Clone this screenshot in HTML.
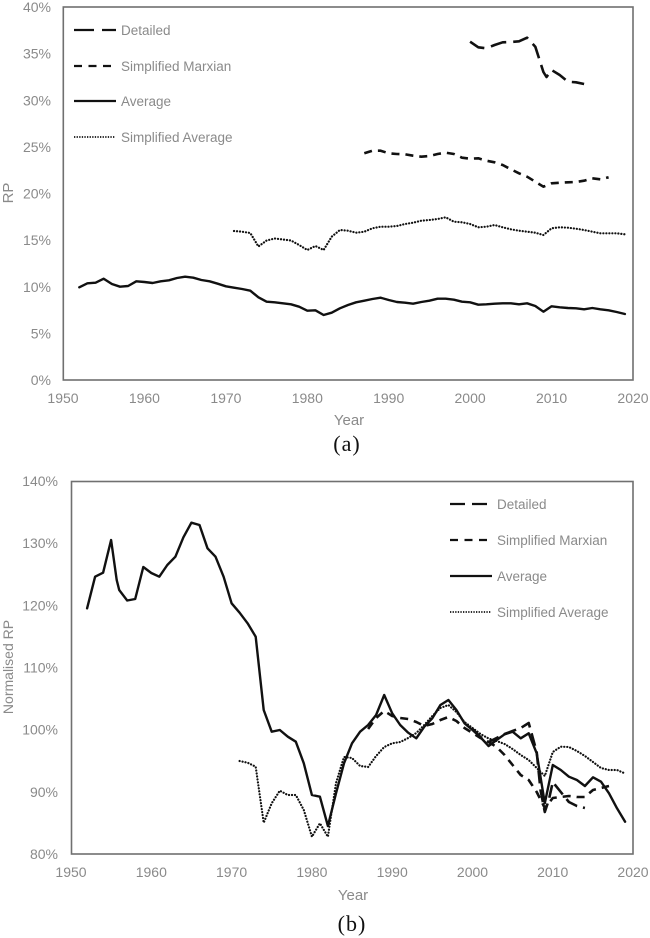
<!DOCTYPE html>
<html><head><meta charset="utf-8"><style>
html,body{margin:0;padding:0;background:#fff;}
svg{display:block;}
text{font-family:"Liberation Sans",Arial,sans-serif;fill:#8a8a8a;}
.t{font-size:14px;}
.lg{font-size:13.5px;}
.cap{font-family:"Liberation Serif","Times New Roman",serif;fill:#111;font-size:22px;}
.ax{fill:none;stroke:#707070;stroke-width:1.6;}
.avg{fill:none;stroke:#111;stroke-width:2.4;stroke-linejoin:round;stroke-linecap:round;}
.sav{fill:none;stroke:#111;stroke-width:2.2;stroke-dasharray:0.1 2.9;stroke-linecap:round;stroke-linejoin:round;}
.sm{fill:none;stroke:#111;stroke-width:2.6;stroke-dasharray:8 6;stroke-linejoin:round;}
.det{fill:none;stroke:#111;stroke-width:2.6;stroke-dasharray:16 7;stroke-linejoin:round;}
</style></head><body>
<svg width="650" height="938" viewBox="0 0 650 938" xmlns="http://www.w3.org/2000/svg">
<!-- ===== Chart (a) ===== -->
<rect class="ax" x="63.3" y="7" width="569.7" height="373"/>
<g class="t" text-anchor="end">
<text x="51" y="12">40%</text>
<text x="51" y="58.6">35%</text>
<text x="51" y="105.3">30%</text>
<text x="51" y="151.9">25%</text>
<text x="51" y="198.5">20%</text>
<text x="51" y="245.1">15%</text>
<text x="51" y="291.8">10%</text>
<text x="51" y="338.4">5%</text>
<text x="51" y="385">0%</text>
</g>
<g class="t" text-anchor="middle">
<text x="63" y="403">1950</text>
<text x="144.4" y="403">1960</text>
<text x="225.9" y="403">1970</text>
<text x="307.3" y="403">1980</text>
<text x="388.7" y="403">1990</text>
<text x="470.1" y="403">2000</text>
<text x="551.6" y="403">2010</text>
<text x="633" y="403">2020</text>
</g>
<text x="349" y="425" text-anchor="middle" style="font-size:15px">Year</text>
<text transform="translate(13,193) rotate(-90)" text-anchor="middle" style="font-size:15px">RP</text>
<text class="cap" x="347" y="451" text-anchor="middle" style="letter-spacing:1px">(a)</text>

<!-- legend a -->
<line x1="74" y1="30" x2="116" y2="30" stroke="#111" stroke-width="2.2" stroke-dasharray="20 8"/>
<line x1="74" y1="66" x2="116" y2="66" stroke="#111" stroke-width="2.2" stroke-dasharray="8 6.5"/>
<line x1="74" y1="101" x2="116" y2="101" stroke="#111" stroke-width="2.2"/>
<line x1="74" y1="137" x2="115" y2="137" stroke="#111" stroke-width="1.8" stroke-dasharray="1.3 1.3"/>
<g class="lg">
<text x="121" y="35">Detailed</text>
<text x="121" y="71">Simplified Marxian</text>
<text x="121" y="106">Average</text>
<text x="121" y="142">Simplified Average</text>
</g>

<polyline class="avg" points="79.3,287.3 87.4,283.3 95.6,282.7 103.7,278.7 111.9,284 120,286.7 128.1,286 136.3,281.3 144.4,282 152.6,283 160.7,281.3 168.9,280.3 177,278 185.1,276.7 193.3,277.7 201.4,280 209.6,281.3 217.7,283.7 225.9,286.3 234,287.7 242.1,289 250.3,290.7 258.4,297.3 266.6,301.7 274.7,302.3 282.9,303.3 291,304.3 299.1,306.7 307.3,310.7 315.4,310.3 323.6,315 331.7,312.7 339.9,308.3 348,305 356.1,302.3 364.3,300.7 372.4,299 380.6,297.7 388.7,300 396.9,302 405,302.7 413.1,303.7 421.3,302 429.4,300.7 437.6,298.7 445.7,298.7 453.9,299.7 462,301.7 470.1,302.3 478.3,304.7 486.4,304.3 494.6,303.7 502.7,303.3 510.9,303.3 519,304.3 527.1,303.3 535.3,306 543.4,311.7 551.6,306.3 559.7,307.3 567.9,308 576,308.3 584.1,309.3 592.3,308 600.4,309.3 608.6,310.3 616.7,312 624.9,314"/>
<polyline class="sav" points="234,231 242.1,231.7 250.3,233 258.4,246.5 266.6,240.5 274.7,238.5 282.9,239.5 291,240.5 299.1,245 307.3,250 315.4,246 323.6,250 331.7,236.7 339.9,230 348,230.7 356.1,232.7 364.3,231.7 372.4,228.3 380.6,226.7 388.7,226.7 396.9,226 405,224 413.1,222.7 421.3,220.7 429.4,220 437.6,219 445.7,217.3 453.9,221.7 462,222.3 470.1,224 478.3,227.3 486.4,226.7 494.6,225 502.7,227.3 510.9,229.3 519,230.7 527.1,231.7 535.3,232.7 543.4,235 551.6,228.3 559.7,227.3 567.9,227.7 576,228.7 584.1,230 592.3,231.7 600.4,233.3 608.6,233.3 616.7,233.3 624.9,234.3"/>
<polyline class="sm" points="364.3,153.3 372.4,150.7 380.6,150.7 388.7,153.3 396.9,154 405,154.3 413.1,155.7 421.3,156.7 429.4,156 437.6,154 445.7,152.7 453.9,154 462,157.7 470.1,158.7 478.3,158.3 486.4,160.7 494.6,162.3 502.7,165 510.9,169.3 519,173.3 527.1,176.7 535.3,181.7 543.4,186.7 551.6,183.3 559.7,182.7 567.9,182.3 576,182 584.1,180.7 592.3,178.3 600.4,179.3 608.6,177.3"/>
<polyline class="det" points="470.1,41.7 478.3,47.3 486.4,48.3 494.6,45 502.7,42.3 510.9,42 519,41.3 527.1,37.7 535.3,46.7 543.4,72 546.5,77 551.6,70 559.7,75 567.9,81.7 576,82.3 584.1,84"/>

<!-- ===== Chart (b) ===== -->
<rect class="ax" x="71.5" y="481.5" width="561.5" height="372.5"/>
<g class="t" text-anchor="end">
<text x="58" y="486">140%</text>
<text x="58" y="548.2">130%</text>
<text x="58" y="610.3">120%</text>
<text x="58" y="672.5">110%</text>
<text x="58" y="734.7">100%</text>
<text x="58" y="796.8">90%</text>
<text x="58" y="859">80%</text>
</g>
<g class="t" text-anchor="middle">
<text x="71" y="877">1950</text>
<text x="151.3" y="877">1960</text>
<text x="231.6" y="877">1970</text>
<text x="311.9" y="877">1980</text>
<text x="392.2" y="877">1990</text>
<text x="472.5" y="877">2000</text>
<text x="552.7" y="877">2010</text>
<text x="633" y="877">2020</text>
</g>
<text x="353" y="900" text-anchor="middle" style="font-size:15px">Year</text>
<text transform="translate(13,667) rotate(-90)" text-anchor="middle" style="font-size:14px">Normalised RP</text>
<text class="cap" x="352" y="931" text-anchor="middle" style="letter-spacing:1px">(b)</text>

<!-- legend b -->
<line x1="450" y1="504" x2="492" y2="504" stroke="#111" stroke-width="2.2" stroke-dasharray="15 7"/>
<line x1="450" y1="540" x2="492" y2="540" stroke="#111" stroke-width="2.2" stroke-dasharray="8 6.5"/>
<line x1="450" y1="576" x2="492" y2="576" stroke="#111" stroke-width="2.2"/>
<line x1="450" y1="612" x2="491" y2="612" stroke="#111" stroke-width="1.8" stroke-dasharray="1.3 1.3"/>
<g class="lg">
<text x="497" y="509">Detailed</text>
<text x="497" y="545">Simplified Marxian</text>
<text x="497" y="581">Average</text>
<text x="497" y="617">Simplified Average</text>
</g>

<polyline class="avg" points="87.1,608.3 95.1,576.7 103.1,572.7 111.1,540 116.7,580 119.2,590 127.2,600.5 135.2,599 143.3,567 151.3,573 159.3,576.7 167.3,565 175.4,556.7 183.4,537.3 191.4,522.7 199.5,525 207.5,548.3 215.5,556.7 223.6,576.7 231.6,603.3 239.6,612.7 247.6,623.3 255.7,636.7 263.7,710 271.7,731.7 279.8,730 287.8,736.7 295.8,741.7 303.8,763.3 311.9,795 319.9,796.7 327.9,826 336,793.3 344,763.3 352,743.3 360.1,731.7 368.1,725 376.1,715 384.2,695 392.2,713.3 400.2,725 408.2,732.7 416.3,738.3 424.3,726.7 432.3,718.3 440.4,705 448.4,700 456.4,710 464.5,723.3 472.5,730 480.5,737.3 488.6,746 496.6,740 504.6,734.3 512.6,731.7 520.7,738.3 528.7,733.3 536.7,753.3 544.8,803.3 552.8,765 560.8,770 568.9,776.7 576.9,780 584.9,786 593,777.3 601,781.7 609,793.3 617,808.3 625.1,821.7"/>
<polyline class="sav" points="239.6,761 247.6,762.7 255.7,766.7 263.7,822.7 271.7,803.3 279.8,790.7 287.8,795 295.8,795 303.8,810 311.9,836.7 319.9,823.3 327.9,836.7 336,783 344,757 352,758 360.1,766 368.1,767 376.1,756 384.2,747 392.2,743.3 400.2,742 408.2,738 416.3,733 424.3,725 432.3,716 440.4,708 448.4,705 456.4,712 464.5,722 472.5,728 480.5,734 488.6,738.5 496.6,741 504.6,744 512.6,749 520.7,755 528.7,760 536.7,768 544.8,776 552.8,752 560.8,746.7 568.9,747 576.9,751 584.9,756 593,762 601,768 609,770 617,770 625.1,773.5"/>
<polyline class="sm" points="368.1,729 376.1,718 384.2,711 392.2,716 400.2,718 408.2,719 416.3,722 424.3,726 432.3,724 440.4,720 448.4,717 456.4,721 464.5,728 472.5,733 480.5,738 488.6,742 496.6,747 504.6,755 512.6,765 520.7,775 528.7,780 536.7,792 544.8,808 552.8,798 560.8,797 568.9,796 576.9,797 584.9,797 593,790 601,788 609,786"/>
<polyline class="det" style="stroke-dasharray:13 6" points="472.5,729 480.5,737 488.6,742 496.6,738 504.6,734 512.6,731 520.7,728 528.7,723 536.7,752 540.5,790 544.8,812 548.8,800 552.8,782 560.8,792 568.9,802 576.9,806 584.9,808"/>
</svg>
</body></html>
